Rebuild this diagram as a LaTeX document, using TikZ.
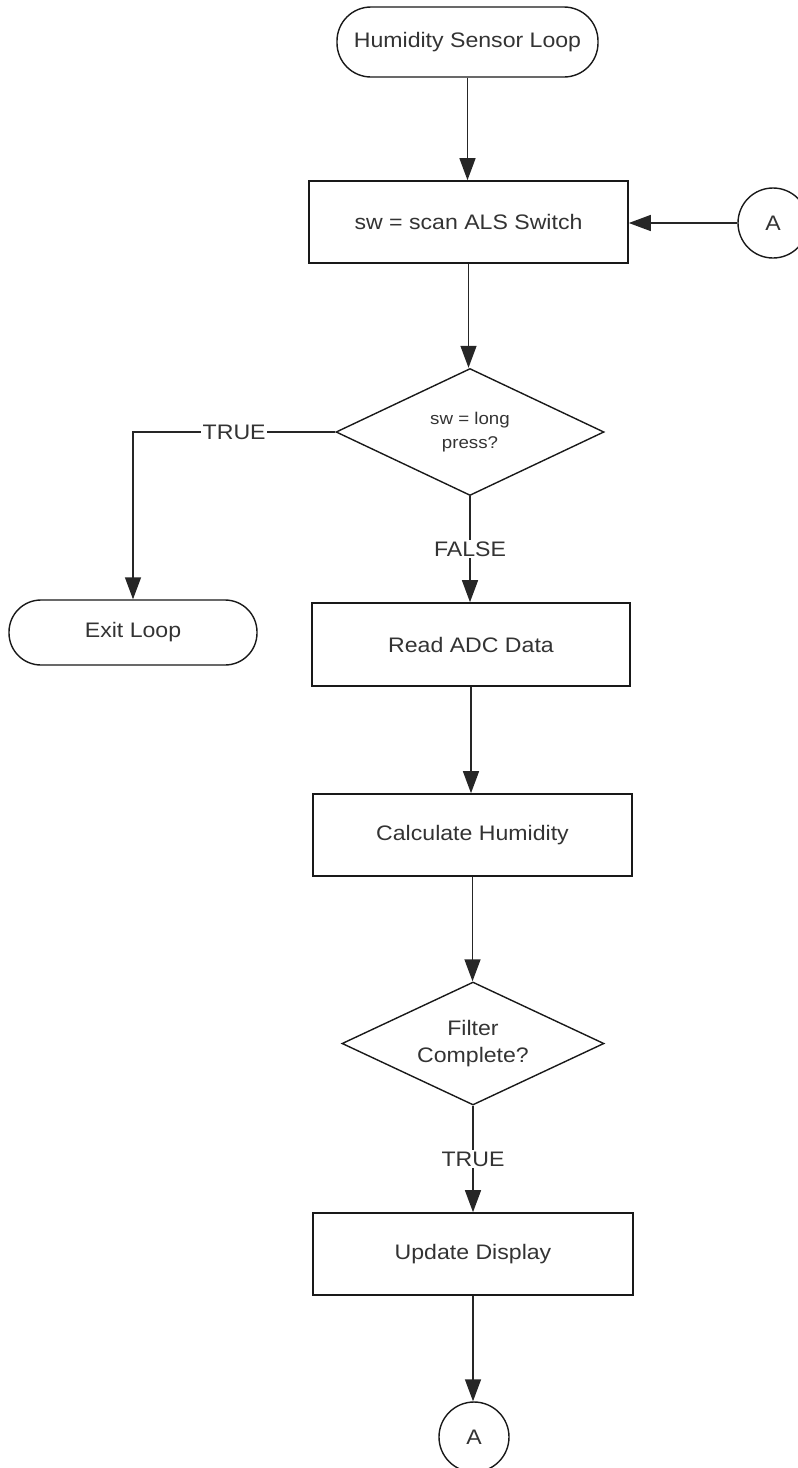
\documentclass[tikz,border=0pt]{standalone}
\usepackage{fontspec}
\newfontfamily\lab[FakeStretch=1.1]{Liberation Sans}
\usetikzlibrary{arrows.meta,shapes.geometric}
\begin{document}
\begin{tikzpicture}[x=1pt,y=-1pt,
  every node/.style={text=black!80},
  txt/.style={font=\lab\fontsize{21}{27}\selectfont},
  procbox/.style={txt,draw=black!90,line width=1.6pt,rectangle,inner sep=0pt,minimum width=319pt,minimum height=82pt},
  termbox/.style={txt,draw=black!90,line width=1.4pt,rectangle,rounded corners=34pt,inner sep=0pt},
  decbox/.style={txt,draw=black!90,line width=1.4pt,diamond,inner sep=0pt,align=center},
  conn/.style={txt,draw=black!90,line width=1.4pt,circle,inner sep=0pt,minimum size=70pt},
  flow/.style={draw=black!85,line width=1.4pt,-{Triangle[length=22pt,width=16pt]}},
  lbl/.style={txt,fill=white,inner sep=1.5pt}
]
\useasboundingbox (0,0) rectangle (798,1468);

\node[termbox,minimum width=261pt,minimum height=70pt] (start) at (467.5,42) {Humidity Sensor Loop};
\node[procbox] (scan) at (468.5,222) {sw = scan ALS Switch};
\node[conn] (A1) at (773,223) {A};
\node[decbox,minimum width=268pt,minimum height=127pt,aspect=2.11,
      font=\lab\fontsize{17}{24}\selectfont] (dec1) at (470,432) {sw = long\\press?};
\node[termbox,minimum width=248pt,minimum height=65pt,rounded corners=32pt] (exit) at (133,632.5) {Exit Loop};
\node[procbox,minimum width=318pt,minimum height=83pt] (read) at (471,644.5) {Read ADC Data};
\node[procbox] (calc) at (472.5,835) {Calculate Humidity};
\node[decbox,minimum width=262pt,minimum height=123pt,aspect=2.13] (filt) at (473,1043.5) {Filter\\Complete?};
\node[procbox,minimum width=320pt] (upd) at (473,1254) {Update Display};
\node[conn] (A2) at (474,1437) {A};

\draw[flow] (start.south) -- (start.south |- scan.north);
\draw[flow] (A1.west) -- (A1.west -| scan.east);
\draw[flow] (scan.south) -- (scan.south |- dec1.north);
\draw[flow] (dec1.west) -| node[lbl,pos=0.25] (ltrue) {TRUE} (exit.north);
\draw[flow] (dec1.south) -- node[lbl,pos=0.5] (lfalse) {FALSE} (dec1.south |- read.north);
\draw[flow] (read.south) -- (read.south |- calc.north);
\draw[flow] (calc.south) -- (calc.south |- filt.north);
\draw[flow] (filt.south) -- node[lbl,pos=0.5] (ltrue2) {TRUE} (filt.south |- upd.north);
\draw[flow] (upd.south) -- (upd.south |- A2.north);
\end{tikzpicture}
\end{document}
